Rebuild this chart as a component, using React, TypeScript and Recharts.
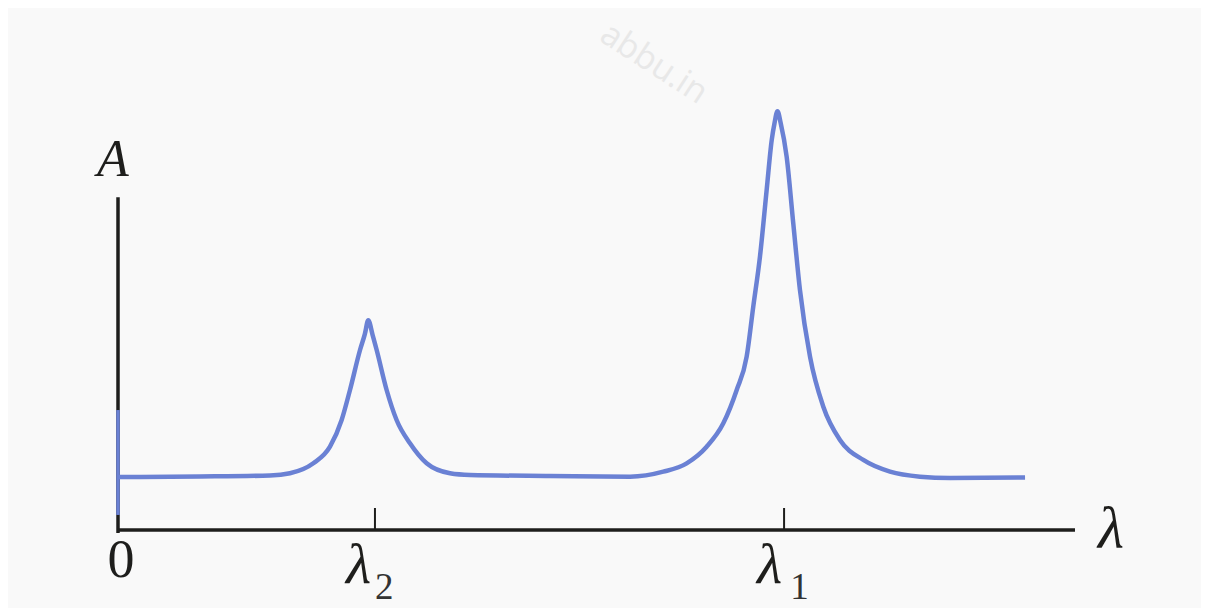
import React from 'react';
import { LineChart, Line, XAxis, YAxis, ReferenceLine, ReferenceDot } from 'recharts';

// wavelength position (0-100 along the λ axis) and absorbance (0-100)
const curveX = [0, 0.73, 8.57, 15.88, 17.97, 20.41, 22.15, 23.37, 24.24, 25.29, 25.8, 26.15, 26.6, 27.03, 28.07, 29.11, 30.51, 32.25, 34.69, 36.78, 45.14, 53.5, 56.98, 59.42, 61.51, 63.25, 64.65, 65.69, 66.38, 67.08, 67.78, 68.31, 68.6, 68.91, 69.25, 69.87, 70.56, 71.26, 72.31, 73.7, 75.44, 77.88, 80.67, 83.8, 86.94, 94.78];
const curveY = [12.33, 12.33, 12.44, 12.67, 13.19, 15.51, 19.37, 25.58, 32.56, 41.86, 45.6, 48.8, 45.4, 41.86, 32.56, 25.58, 20.16, 15.51, 13.19, 12.79, 12.56, 12.4, 13.56, 15.51, 19.37, 24.81, 32.56, 40.3, 51.93, 63.56, 79.07, 90.7, 94.6, 97.4, 94.6, 86.81, 71.33, 55.81, 40.3, 28.67, 20.93, 16.28, 13.56, 12.4, 12.09, 12.21];

const tickValues = [0, 26.85, 69.6];
const tickNames = ['0', 'λ', 'λ'];
const tickSubs = ['', '2', '1'];

const axisLabelX = 'λ';
const axisLabelY = 'A';

const data = curveX.map((x, i) => ({ x, y: curveY[i] }));

const SERIF = '"Liberation Serif", "DejaVu Serif", serif';
const CURVE = '#6a81d4';
const INK = '#1e1e1c';

function AxisTick(props: any) {
  const { x, y, payload } = props;
  const i = tickValues.indexOf(payload.value);
  if (i === 0) {
    return (
      <text x={x + 3} y={y + 47} textAnchor="middle" fontSize={54} fontFamily={SERIF} fill={INK}>
        {tickNames[i]}
      </text>
    );
  }
  const dx = i === 1 ? -29 : -27;
  return (
    <g>
      <line x1={x} x2={x} y1={y - 22} y2={y} stroke={INK} strokeWidth={2} />
      <text x={x + dx} y={y + 53} fontSize={58} fontFamily={SERIF} fontStyle="italic" fill={INK}>
        {tickNames[i]}
        <tspan dx={i === 1 ? 4 : 8} dy={16} fontSize={37} fontStyle="normal" fill="#333">
          {tickSubs[i]}
        </tspan>
      </text>
    </g>
  );
}

export default function App() {
  return (
    <div style={{ position: 'relative', width: 1201, height: 600, background: '#f9f9f9', overflow: 'hidden' }}>
      <div
        style={{
          position: 'absolute',
          left: 608,
          top: 4,
          transform: 'rotate(33deg)',
          transformOrigin: 'left top',
          color: '#e8e8e8',
          fontFamily: '"Open Sans", sans-serif',
          fontSize: 34,
          lineHeight: 1.2,
          whiteSpace: 'nowrap',
        }}
      >
        abbu.in
      </div>
      <LineChart
        width={1201}
        height={600}
        data={data}
        margin={{ top: 92, right: 134, bottom: 18, left: 110 }}
        style={{ position: 'absolute', left: 0, top: 0 }}
      >
        <XAxis
          type="number"
          dataKey="x"
          domain={[0, 100]}
          ticks={tickValues}
          interval={0}
          height={60}
          tickSize={0}
          tickMargin={0}
          tickLine={false}
          axisLine={{ stroke: INK, strokeWidth: 3.5 }}
          tick={<AxisTick />}
        />
        <YAxis type="number" domain={[0, 100]} hide />
        <ReferenceLine
          segment={[{ x: 0, y: -0.7 }, { x: 0, y: 77.4 }]}
          stroke={INK}
          strokeWidth={3.5}
          ifOverflow="visible"
        />
        <ReferenceLine
          segment={[{ x: 0, y: 3.5 }, { x: 0, y: 27.9 }]}
          stroke={CURVE}
          strokeWidth={3.5}
          ifOverflow="visible"
        />
        <ReferenceDot
          x={0}
          y={82.33}
          r={0}
          ifOverflow="visible"
          shape={(p: any) => (
            <text x={p.cx - 21} y={p.cy} fontSize={52} fontStyle="italic" fontFamily={SERIF} fill={INK}>
              {axisLabelY}
            </text>
          )}
        />
        <ReferenceDot
          x={102.4}
          y={-4.19}
          r={0}
          ifOverflow="visible"
          shape={(p: any) => (
            <text x={p.cx} y={p.cy} fontSize={60} fontStyle="italic" fontFamily={SERIF} fill={INK}>
              {axisLabelX}
            </text>
          )}
        />
        <Line
          type="monotone"
          dataKey="y"
          stroke={CURVE}
          strokeWidth={4.5}
          strokeLinejoin="round"
          strokeLinecap="butt"
          dot={false}
          activeDot={false}
          isAnimationActive={false}
        />
      </LineChart>
    </div>
  );
}
